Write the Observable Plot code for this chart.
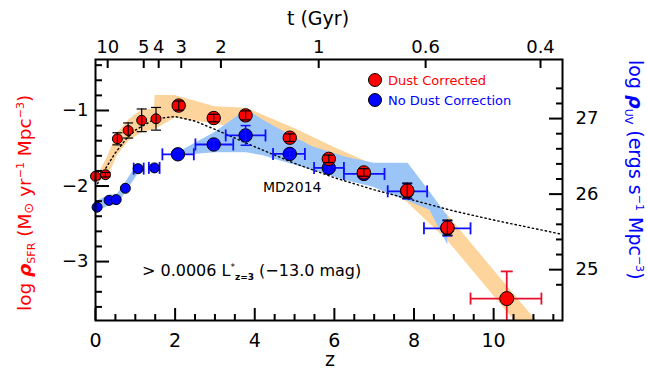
<!DOCTYPE html>
<html><head><meta charset="utf-8">
<script src="https://cdn.jsdelivr.net/npm/d3@7"></script>
<script src="https://cdn.jsdelivr.net/npm/@observablehq/plot@0.6"></script>
<style>
html,body{margin:0;padding:0;background:#fff;}
#chart{width:647px;height:373px;position:relative;}
svg{font-family:"DejaVu Sans",sans-serif;}
</style></head><body><div id="chart"></div>
<script>
// ---- data ----
// dust corrected (red), low-z (small) and high-z (large)
const redLowZ = [0.0, 0.25, 0.55, 0.82, 1.16, 1.52];
const redLowV = [-1.87, -1.85, -1.375, -1.265, -1.13, -1.11];
const redLowErr = [0.0, 0.03, 0.08, 0.10, 0.15, 0.15];
const redHighZ = [2.09, 2.97, 3.77, 4.88, 5.86, 6.74, 7.83, 8.84];
const redHighV = [-0.935, -1.10, -1.065, -1.36, -1.64, -1.82, -2.06, -2.55];
const redHighErr = [0.06, 0.05, 0.06, 0.05, 0.05, 0.05, 0.10, 0.10];
// highest-z point (red error bars)
const lastZ = [10.33], lastV = [-3.49], lastZlo = [9.42], lastZhi = [11.2], lastVlo = [-3.85], lastVhi = [-3.13];
// no dust correction (blue)
const blueLowZ = [0.04, 0.34, 0.52, 0.75, 1.07, 1.48];
const blueLowV = [-2.28, -2.19, -2.18, -2.03, -1.77, -1.76];
const blueLowZlo = [null, null, null, null, 0.96, 1.34];
const blueLowZhi = [null, null, null, null, 1.21, 1.61];
const blueHighZ = [2.07, 2.97, 3.77, 4.88, 5.86, 6.74, 7.83, 8.84];
const blueHighV = [-1.58, -1.45, -1.33, -1.575, -1.76, -1.84, -2.07, -2.56];
const blueHighZlo = [1.68, 2.51, 3.27, 4.46, 5.49, 6.24, 7.34, 8.25];
const blueHighZhi = [2.47, 3.46, 4.27, 5.26, 6.24, 7.26, 8.33, 9.42];
const blueHighErr = [0.0, 0.06, 0.13, 0.05, 0.05, 0.05, 0.10, 0.10];
// uncertainty bands
const orangeZ  = [0.12, 0.3, 0.55, 0.85, 1.15, 1.48, 1.5, 2.0, 3.0, 3.8, 5.0, 6.0, 6.9, 7.8, 8.84, 10.33, 11.5];
const orangeHi = [-1.80, -1.62, -1.30, -1.12, -1.00, -0.98, -0.80, -0.80, -0.95, -0.97, -1.24, -1.49, -1.70, -1.90, -2.38, -3.32, -4.05];
const orangeLo = [-1.93, -1.90, -1.60, -1.40, -1.30, -1.25, -1.25, -1.10, -1.18, -1.25, -1.45, -1.65, -1.90, -2.20, -2.72, -3.66, -4.40];
const blue1Z  = [0.0, 0.35, 0.55, 0.75, 1.07];
const blue1Hi = [-2.21, -2.12, -2.11, -1.96, -1.70];
const blue1Lo = [-2.35, -2.26, -2.25, -2.10, -1.84];
const blue2Z  = [2.07, 3.0, 3.8, 4.22, 4.45, 5.45, 6.3, 7.0, 7.3, 7.85, 8.4, 8.85];
const blue2Hi = [-1.56, -1.29, -0.99, -1.13, -1.20, -1.48, -1.62, -1.70, -1.70, -1.70, -2.08, -2.40];
const blue2Lo = [-1.60, -1.56, -1.56, -1.60, -1.64, -1.79, -1.93, -2.02, -2.09, -2.20, -2.32, -2.78];
// MD2014 curve (dotted)
const mdZ = [0, 0.25, 0.5, 0.75, 1.0, 1.5, 2.0, 2.5, 3.0, 4.0, 5.0, 6.0, 7.0, 8.0, 9.0, 10.0, 11.0, 11.73];
const mdV = [-2.02, -1.77, -1.56, -1.39, -1.26, -1.11, -1.08, -1.14, -1.25, -1.48, -1.70, -1.89, -2.05, -2.19, -2.33, -2.45, -2.56, -2.64];
// axis ticks
const zMajor = [0, 2, 4, 6, 8, 10];
const zMinor = [0.5, 1, 1.5, 2.5, 3, 3.5, 4.5, 5, 5.5, 6.5, 7, 7.5, 8.5, 9, 9.5, 10.5, 11, 11.5];
const sfrMajor = [-3, -2, -1];
const sfrMinor = [-3.6, -3.4, -3.2, -2.8, -2.6, -2.4, -2.2, -1.8, -1.6, -1.4, -1.2, -0.8, -0.6, -0.4];
const uvMajor = [25, 26, 27];
const uvMinor = [24.8, 25.2, 25.4, 25.6, 25.8, 26.2, 26.4, 26.6, 26.8, 27.2, 27.4];
const tTicks = [10, 5, 4, 3, 2, 1, 0.6, 0.4];
const tLabels = ["10", "5", "4", "3", "2", "1", "0.6", "0.4"];

// ---- derived tables ----
const uvOffset = 28.107; // log rho_UV = log rho_SFR + offset
const zip = (keys, ...arrs) => arrs[0].map((_, i) => Object.fromEntries(keys.map((k, j) => [k, arrs[j][i]])));
const orange = zip(["z","hi","lo"], orangeZ, orangeHi, orangeLo);
const blue1 = zip(["z","hi","lo"], blue1Z, blue1Hi, blue1Lo);
const blue2 = zip(["z","hi","lo"], blue2Z, blue2Hi, blue2Lo);
const md = zip(["z","v"], mdZ, mdV);
const redLow = zip(["z","v","e"], redLowZ, redLowV, redLowErr);
const redHigh = zip(["z","v","e"], redHighZ, redHighV, redHighErr);
const last = zip(["z","v","zlo","zhi","vlo","vhi"], lastZ, lastV, lastZlo, lastZhi, lastVlo, lastVhi);
const blueLow = zip(["z","v","zlo","zhi"], blueLowZ, blueLowV, blueLowZlo, blueLowZhi);
const blueHigh = zip(["z","v","zlo","zhi","e"], blueHighZ, blueHighV, blueHighZlo, blueHighZhi, blueHighErr);
const blueX = [...blueLow.filter(d => d.zlo != null), ...blueHigh];
const redErrAll = [...redLow, ...redHigh].filter(d => d.e > 0);
const blueErrV = blueHigh.filter(d => d.e > 0);

// cosmic time -> redshift (flat LCDM, H0=70, Om=0.3)
const tPref = 977.8 / 70 * 2 / (3 * Math.sqrt(0.7));
const zOfT = t => Math.pow(Math.sqrt(0.7 / 0.3) / Math.sinh(t / tPref), 2 / 3) - 1;
const tZ = tTicks.map(zOfT);
const tMap = new Map(tZ.map((z, i) => [z, tLabels[i]]));

const hcap = {draw(ctx, size) { const r = Math.sqrt(size / Math.PI); ctx.moveTo(-r, 0); ctx.lineTo(r, 0); }};
const vcap = {draw(ctx, size) { const r = Math.sqrt(size / Math.PI); ctx.moveTo(0, -r); ctx.lineTo(0, r); }};

const RED = "#ff0000", BLUE = "#0000ff", EB = "#1010ff";

const plot = Plot.plot({
  width: 647, height: 373,
  marginLeft: 95, marginRight: 85, marginTop: 59, marginBottom: 53,
  x: {domain: [0, 11.73], axis: null},
  y: {domain: [-3.78, -0.325], axis: null},
  style: {fontFamily: "DejaVu Sans", fontSize: "18px", color: "black", background: "white", overflow: "visible"},
  marks: [
    Plot.areaY(orange, {x: "z", y1: "lo", y2: "hi", fill: "#fdd59c", clip: true}),
    Plot.areaY(blue1, {x: "z", y1: "lo", y2: "hi", fill: "#9cc5f7", clip: true}),
    Plot.areaY(blue2, {x: "z", y1: "lo", y2: "hi", fill: "#9cc5f7", clip: true}),
    Plot.line(md, {x: "z", y: "v", stroke: "black", strokeWidth: 1.4, strokeDasharray: "1.4,3", clip: true}),
    // blue horizontal error bars
    Plot.ruleY(blueX, {y: "v", x1: "zlo", x2: "zhi", stroke: EB, strokeWidth: 1.8}),
    Plot.dot(blueX, {x: "zlo", y: "v", symbol: vcap, r: 6, stroke: EB, strokeWidth: 1.8}),
    Plot.dot(blueX, {x: "zhi", y: "v", symbol: vcap, r: 6, stroke: EB, strokeWidth: 1.8}),
    // blue points
    Plot.dot(blueLow, {x: "z", y: "v", r: 5, fill: BLUE, stroke: "black", strokeWidth: 1}),
    Plot.dot(blueHigh, {x: "z", y: "v", r: 6.7, fill: BLUE, stroke: "black", strokeWidth: 1}),
    // blue vertical error bars
    Plot.ruleX(blueErrV, {x: "z", y1: d => d.v - d.e, y2: d => d.v + d.e, stroke: EB, strokeWidth: 1.5}),
    Plot.dot(blueErrV, {x: "z", y: d => d.v - d.e, symbol: hcap, r: 5, stroke: EB, strokeWidth: 1.5}),
    Plot.dot(blueErrV, {x: "z", y: d => d.v + d.e, symbol: hcap, r: 5, stroke: EB, strokeWidth: 1.5}),
    // red points
    Plot.dot(redLow, {x: "z", y: "v", r: 5, fill: RED, stroke: "black", strokeWidth: 1}),
    Plot.dot(redHigh, {x: "z", y: "v", r: 6.7, fill: RED, stroke: "black", strokeWidth: 1}),
    // black error bars on red points
    Plot.ruleX(redErrAll, {x: "z", y1: d => d.v - d.e, y2: d => d.v + d.e, stroke: "black", strokeWidth: 1.2}),
    Plot.dot(redErrAll, {x: "z", y: d => d.v - d.e, symbol: hcap, r: 5, stroke: "black", strokeWidth: 1.2}),
    Plot.dot(redErrAll, {x: "z", y: d => d.v + d.e, symbol: hcap, r: 5, stroke: "black", strokeWidth: 1.2}),
    // last point with red error bars
    Plot.ruleY(last, {y: "v", x1: "zlo", x2: "zhi", stroke: "#e8102a", strokeWidth: 1.8}),
    Plot.dot(last, {x: "zlo", y: "v", symbol: vcap, r: 6, stroke: "#e8102a", strokeWidth: 1.8}),
    Plot.dot(last, {x: "zhi", y: "v", symbol: vcap, r: 6, stroke: "#e8102a", strokeWidth: 1.8}),
    Plot.ruleX(last, {x: "z", y1: "vlo", y2: "vhi", stroke: "#e8102a", strokeWidth: 1.8, clip: true}),
    Plot.dot(last, {x: "z", y: "vhi", symbol: hcap, r: 6, stroke: "#e8102a", strokeWidth: 1.8}),
    Plot.dot(last, {x: "z", y: "v", r: 7, fill: RED, stroke: "black", strokeWidth: 1}),
    // frame and axes (inward ticks)
    Plot.frame({stroke: "black", strokeWidth: 2}),
    Plot.axisX(zMajor, {anchor: "bottom", tickSize: -12, tickPadding: 25, strokeWidth: 2, fontSize: 19, tickFormat: d => String(d), label: null}),
    Plot.axisX(zMinor, {anchor: "bottom", tickSize: -6, strokeWidth: 2, tickFormat: () => "", label: null}),
    Plot.axisX(tZ, {anchor: "top", tickSize: -8, tickPadding: 15, strokeWidth: 2, tickFormat: d => tMap.get(d), label: null}),
    Plot.axisY(sfrMajor, {anchor: "left", tickSize: -14, tickPadding: 21, strokeWidth: 2, tickFormat: d => "\u2212" + Math.abs(d), label: null}),
    Plot.axisY(sfrMinor, {anchor: "left", tickSize: -7, strokeWidth: 2, tickFormat: () => "", label: null}),
    Plot.axisY(uvMajor.map(u => u - uvOffset), {anchor: "right", tickSize: -14, tickPadding: 27, strokeWidth: 2, tickFormat: d => String(Math.round(d + uvOffset)), label: null}),
    Plot.axisY(uvMinor.map(u => u - uvOffset), {anchor: "right", tickSize: -7, strokeWidth: 2, tickFormat: () => "", label: null})
  ]
});
document.getElementById("chart").appendChild(plot);

// ---- text labels ----
const svg = d3.select(plot);
function addText(x, y, parts, {size = 14, fill = "black", anchor = "start", rotate = 0, family = "DejaVu Sans"} = {}) {
  const t = svg.append("text")
    .attr("transform", `translate(${x},${y}) rotate(${rotate})`)
    .attr("text-anchor", anchor).attr("font-size", size).attr("fill", fill).attr("font-family", family);
  for (const p of parts) {
    const s = t.append("tspan").text(p.text);
    if (p.shift) s.attr("baseline-shift", p.shift);
    if (p.size) s.attr("font-size", p.size);
    if (p.style) s.attr("font-style", p.style);
    if (p.weight) s.attr("font-weight", p.weight);
  }
  return t;
}
addText(318, 25, [{text: "t (Gyr)"}], {size: 19, anchor: "middle"});
addText(330, 366, [{text: "z"}], {size: 19, anchor: "middle"});
addText(31, 311, [
  {text: "log "}, {text: "\u03c1", style: "italic", weight: "bold"}, {text: "SFR", size: 11, shift: "-4"},
  {text: " (M"}, {text: "\u2299", size: 13, shift: "-2"}, {text: " yr"}, {text: "\u22121", size: 11, shift: "7"},
  {text: " Mpc"}, {text: "\u22123", size: 11, shift: "7"}, {text: ")"}
], {size: 18.5, fill: RED, anchor: "start", rotate: -90});
addText(629, 60, [
  {text: "log "}, {text: "\u03c1", style: "italic", weight: "bold"}, {text: "UV", size: 11, shift: "-4"},
  {text: " (ergs s"}, {text: "\u22121", size: 11, shift: "7"},
  {text: " Mpc"}, {text: "\u22123", size: 11, shift: "7"}, {text: ")"}
], {size: 19, fill: BLUE, anchor: "start", rotate: 90});
// legend
svg.append("circle").attr("cx", 375).attr("cy", 80).attr("r", 6.5).attr("fill", RED).attr("stroke", "black");
svg.append("circle").attr("cx", 375).attr("cy", 100).attr("r", 6.5).attr("fill", BLUE).attr("stroke", "black");
addText(388, 85, [{text: "Dust Corrected"}], {size: 13, fill: RED});
addText(388, 105, [{text: "No Dust Correction"}], {size: 13, fill: BLUE});
// annotations
addText(263, 192, [{text: "MD2014"}], {size: 14});
addText(142, 276, [
  {text: "> 0.0006 L"}, {text: "*", size: 9, shift: "6"}, {text: "z=3", size: 9, shift: "-4", weight: "bold"},
  {text: " (\u221213.0 mag)"}
], {size: 16});
</script></body></html>
